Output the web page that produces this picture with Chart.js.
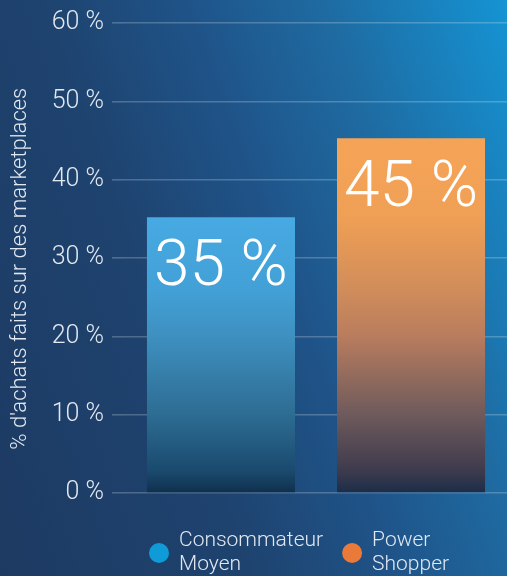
<!DOCTYPE html>
<html>
<head>
<meta charset="utf-8">
<script src="https://cdn.jsdelivr.net/npm/chart.js@4/dist/chart.umd.min.js"></script>
<style>
  html, body { margin: 0; padding: 0; }
  body {
    width: 507px;
    height: 576px;
    overflow: hidden;
    background: linear-gradient(250deg, #1594d4 0%, #1e6ca3 25%, #1f5388 45%, #1e436f 65%, #1d3a62 100%);
  }
  #chartWrap { position: relative; width: 507px; height: 576px; }
</style>
</head>
<body>
<div id="chartWrap"><canvas id="shareChart"></canvas></div>
<script>
// data
const seriesNames = ["Consommateur Moyen", "Power Shopper"];
const legendLines = [["Consommateur", "Moyen"], ["Power", "Shopper"]];
const shareValues = [35.2, 45.3];
const yTitle = "% d'achats faits sur des marketplaces";
const yMin = 0;
const yMax = 60;
const yStep = 10;

// colours
const legendColors = ["#0f9ad8", "#ea7a3a"];
const barStops = [
    [[0, "#47aae2"], [0.27, "#42a0d6"], [0.43, "#3e90c0"], [0.71, "#2e6d94"], [0.92, "#1a4a6e"], [1, "#0f2f4c"]],
    [[0, "#f5a457"], [0.22, "#f0a055"], [0.43, "#d08c5a"], [0.56, "#b87c5e"], [0.78, "#6e5a5c"], [0.94, "#3d3a4d"], [1, "#1a2d48"]],
];
const textColor = "#e2e8f0";
const gridColor = "rgba(255,255,255,0.22)";

const barGradient = (index) => (context) => {
    const chart = context.chart;
    if (!chart.chartArea || context.raw == null) {
        return barStops[index][0][1];
    }
    const yScale = chart.scales.y;
    const top = yScale.getPixelForValue(context.raw);
    const bottom = yScale.getPixelForValue(0);
    const g = chart.ctx.createLinearGradient(0, top, 0, bottom);
    barStops[index].forEach(([pos, col]) => g.addColorStop(pos, col));
    return g;
};

const datasets = seriesNames.map((name, i) => ({
    label: name,
    data: [shareValues[i]],
    backgroundColor: barGradient(i),
    borderWidth: 0,
    categoryPercentage: 0.995,
    barPercentage: 0.779,
}));

// big value text on top of each bar
const valueLabels = {
    id: "valueLabels",
    afterDraw(chart) {
        const ctx = chart.ctx;
        ctx.save();
        ctx.fillStyle = "#ffffff";
        ctx.font = "300 64px Roboto";
        ctx.textAlign = "center";
        ctx.textBaseline = "alphabetic";
        chart.data.datasets.forEach((ds, i) => {
            const bar = chart.getDatasetMeta(i).data[0];
            ctx.fillText(Math.round(ds.data[0]) + " %", bar.x, bar.y + 68);
        });
        ctx.restore();
    },
};

// two-line legend under the plot, the built-in one does not wrap labels well
const lineLegend = {
    id: "lineLegend",
    afterDraw(chart) {
        const ctx = chart.ctx;
        const area = chart.chartArea;
        const radius = 10;
        const lineH = 24;
        let x = area.left + 24;
        const cy = area.bottom + 60;
        ctx.save();
        ctx.font = "300 21px Roboto";
        ctx.textBaseline = "middle";
        ctx.textAlign = "left";
        legendLines.forEach((lines, i) => {
            ctx.fillStyle = legendColors[i];
            ctx.beginPath();
            ctx.arc(x + radius, cy, radius, 0, Math.PI * 2);
            ctx.fill();
            const tx = x + radius * 2 + 10;
            ctx.fillStyle = textColor;
            let w = 0;
            lines.forEach((line, j) => {
                ctx.fillText(line, tx, cy + (j - (lines.length - 1) / 2) * lineH);
                w = Math.max(w, ctx.measureText(line).width);
            });
            x = tx + w + 19;
        });
        ctx.restore();
    },
};

new Chart(document.getElementById("shareChart"), {
    type: "bar",
    data: {
        labels: [""],
        datasets: datasets,
    },
    plugins: [valueLabels, lineLegend],
    options: {
        responsive: true,
        maintainAspectRatio: false,
        animation: false,
        layout: {
            padding: { top: 5, right: 0, left: 0, bottom: 83 },
        },
        plugins: {
            tooltip: { enabled: false },
            legend: { display: false },
        },
        scales: {
            x: {
                display: false,
            },
            y: {
                min: yMin,
                max: yMax,
                z: 1,
                afterFit: (scale) => { scale.width = 125; },
                border: { display: false },
                grid: {
                    color: gridColor,
                    lineWidth: 1.6,
                    drawTicks: true,
                    tickLength: 13,
                    tickColor: gridColor,
                },
                ticks: {
                    stepSize: yStep,
                    padding: 8,
                    color: textColor,
                    font: { family: "Roboto", size: 25, weight: "300" },
                    callback: (v) => v + " %",
                },
                title: {
                    display: true,
                    text: yTitle + "    ",
                    color: textColor,
                    padding: { top: 7, bottom: 0 },
                    font: { family: "Roboto", size: 22, weight: "300" },
                },
            },
        },
    },
});
</script>
</body>
</html>
